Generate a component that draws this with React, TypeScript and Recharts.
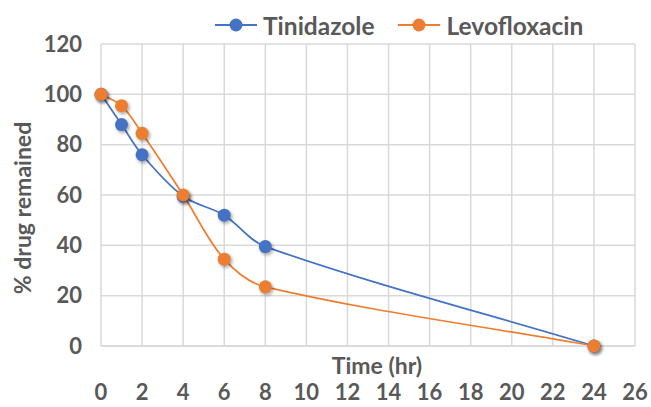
import React from 'react';
import { LineChart, Line, XAxis, YAxis, CartesianGrid } from 'recharts';

const timeHr = [0, 1, 2, 4, 6, 8, 24];
const tinidazole = [100, 88, 76, 59.5, 52, 39.5, 0];
const levofloxacin = [100, 95.5, 84.5, 60, 34.5, 23.5, 0];
const xTicks = [0, 2, 4, 6, 8, 10, 12, 14, 16, 18, 20, 22, 24, 26];
const yTicks = [0, 20, 40, 60, 80, 100, 120];

const data = timeHr.map((t, i) => ({ t, tinidazole: tinidazole[i], levofloxacin: levofloxacin[i] }));

const BLUE = '#4472C4';
const ORANGE = '#ED7D31';
const TEXT = '#595959';
const FONT = 'Lato, "Open Sans", sans-serif';

// Excel-like smoothing (chord-length scaled Catmull-Rom Bezier)
const smoothCurve = (context: any) => {
  let pts: [number, number][] = [];
  const dist = (a: [number, number], b: [number, number]) => Math.hypot(b[0] - a[0], b[1] - a[1]);
  return {
    areaStart() {},
    areaEnd() {},
    lineStart() {
      pts = [];
    },
    point(x: number, y: number) {
      pts.push([+x, +y]);
    },
    lineEnd() {
      if (!pts.length) return;
      context.moveTo(pts[0][0], pts[0][1]);
      for (let i = 0; i < pts.length - 1; i++) {
        const p0 = pts[i - 1] || pts[i];
        const p1 = pts[i];
        const p2 = pts[i + 1];
        const p3 = pts[i + 2] || pts[i + 1];
        const d01 = dist(p0, p1);
        const d12 = dist(p1, p2);
        const d23 = dist(p2, p3);
        const f1 = d12 / (d01 + d12 || 1) / 3;
        const f2 = d12 / (d12 + d23 || 1) / 3;
        const c1x = p1[0] + (p2[0] - p0[0]) * f1;
        const c1y = p1[1] + (p2[1] - p0[1]) * f1;
        const c2x = p2[0] - (p3[0] - p1[0]) * f2;
        const c2y = p2[1] - (p3[1] - p1[1]) * f2;
        context.bezierCurveTo(c1x, c1y, c2x, c2y, p2[0], p2[1]);
      }
    },
  };
};

const makeDot = (color: string) => (props: any) => {
  const { cx, cy, index } = props;
  if (cx == null || cy == null) return <g key={index} />;
  return (
    <g key={index}>
      <circle cx={cx + 1.5} cy={cy + 2} r={7} fill="#000" opacity={0.28} filter="url(#dotShadow)" />
      <circle cx={cx} cy={cy} r={6.5} fill={color} />
    </g>
  );
};

const legendItems = [
  { name: 'Tinidazole', color: BLUE },
  { name: 'Levofloxacin', color: ORANGE },
];

export default function App() {
  return (
    <div style={{ position: 'fixed', top: 0, left: 0, width: 651, height: 407, background: '#fff' }}>
      <svg width={0} height={0} style={{ position: 'absolute' }}>
        <defs>
          <filter id="dotShadow" x="-50%" y="-50%" width="200%" height="200%">
            <feGaussianBlur stdDeviation="1.5" />
          </filter>
        </defs>
      </svg>
      <div
        style={{
          position: 'absolute',
          top: 10,
          left: 215,
          height: 30,
          display: 'flex',
          alignItems: 'center',
          fontFamily: FONT,
          fontWeight: 700,
          fontSize: 24.5,
          color: TEXT,
          whiteSpace: 'nowrap',
          zIndex: 2,
        }}
      >
        {legendItems.map((it, i) => (
          <div key={it.name} style={{ display: 'flex', alignItems: 'center', marginRight: i === 0 ? 24 : 0 }}>
            <svg width={42} height={16} style={{ marginRight: 6 }}>
              <line x1={0} y1={8} x2={42} y2={8} stroke={it.color} strokeWidth={2} />
              <circle cx={21} cy={8} r={6.5} fill={it.color} />
            </svg>
            <span>{it.name}</span>
          </div>
        ))}
      </div>
      <LineChart width={651} height={407} data={data} margin={{ top: 44, right: 16, left: 0, bottom: 0 }}>
        <CartesianGrid stroke="#d9d9d9" strokeWidth={1.5} />
        <XAxis
          dataKey="t"
          type="number"
          domain={[0, 26]}
          ticks={xTicks}
          interval={0}
          height={61}
          axisLine={{ stroke: '#d9d9d9', strokeWidth: 1.5 }}
          tickLine={false}
          tickSize={0}
          tickMargin={38}
          tick={{ fill: TEXT, fontFamily: FONT, fontWeight: 700, fontSize: 22 }}
          label={{
            content: (p: any) => {
              const vb = p.viewBox || {};
              return (
                <text x={vb.x + vb.width / 2 + 9} y={vb.y + 19} textAnchor="middle" dominantBaseline="central" fill={TEXT} fontFamily={FONT} fontWeight={700} fontSize={23}>
                  Time (hr)
                </text>
              );
            },
          }}
        />
        <YAxis
          type="number"
          domain={[0, 120]}
          ticks={yTicks}
          interval={0}
          width={101}
          axisLine={false}
          tickLine={false}
          tickSize={0}
          tickMargin={19}
          tick={{ fill: TEXT, fontFamily: FONT, fontWeight: 700, fontSize: 22 }}
          label={{
            content: (p: any) => {
              const vb = p.viewBox || {};
              const x = vb.x + 22;
              const y = vb.y + vb.height / 2 + 13;
              return (
                <text x={x} y={y} transform={`rotate(-90, ${x}, ${y})`} textAnchor="middle" dominantBaseline="central" fill={TEXT} fontFamily={FONT} fontWeight={700} fontSize={23}>
                  % drug remained
                </text>
              );
            },
          }}
        />
        <Line dataKey="tinidazole" name="Tinidazole" type={smoothCurve as any} stroke={BLUE} strokeWidth={1.75} dot={makeDot(BLUE)} activeDot={false} isAnimationActive={false} />
        <Line dataKey="levofloxacin" name="Levofloxacin" type={smoothCurve as any} stroke={ORANGE} strokeWidth={1.75} dot={makeDot(ORANGE)} activeDot={false} isAnimationActive={false} />
      </LineChart>
    </div>
  );
}
